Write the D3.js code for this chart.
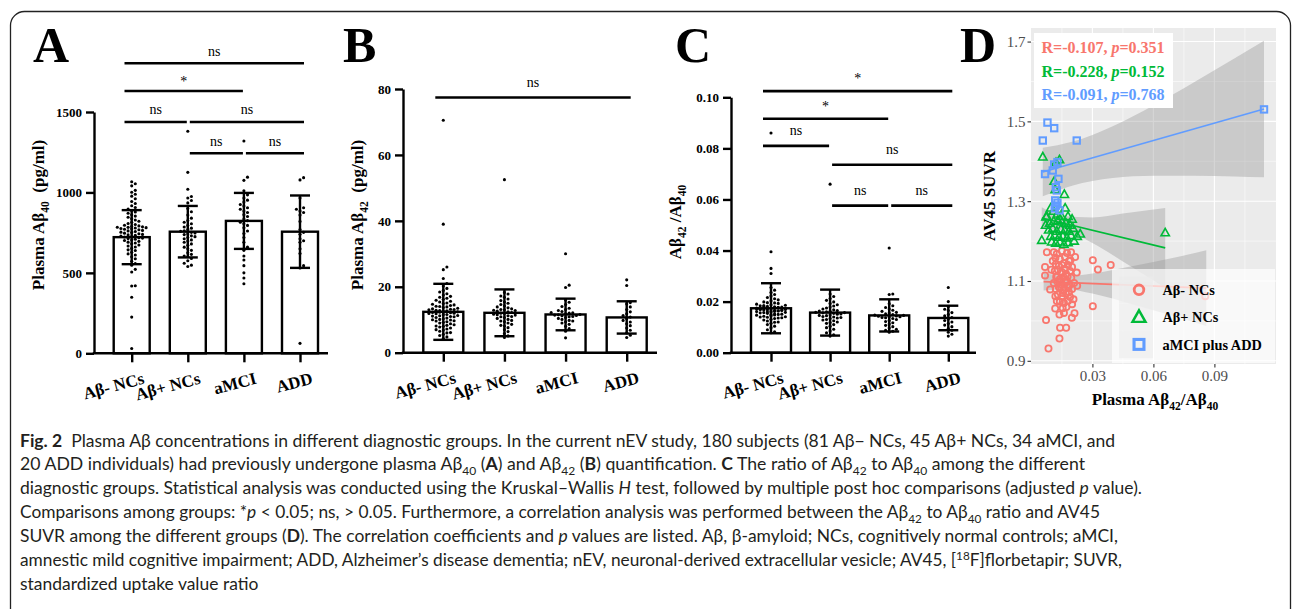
<!DOCTYPE html>
<html>
<head>
<meta charset="utf-8">
<script src="https://cdn.jsdelivr.net/npm/d3@7"></script>
<style>
  body { margin: 0; background: #fff; }
  svg { display: block; }
  text { white-space: pre; }
</style>
</head>
<body>
<script>
// ---- data ----
var groups = ["Aβ- NCs", "Aβ+ NCs", "aMCI", "ADD"];

// A: plasma Aβ40 (pg/ml)
var a40Mean = [722, 756, 823, 756];
var a40SD = [168, 160, 174, 225];
var a40Neg = [30, 225, 348, 418, 420, 505, 522, 548, 558, 572, 588, 600, 611, 618, 628, 639, 643, 652, 661, 667,
  673, 681, 686, 691, 696, 701, 704, 709, 713, 716, 719, 723, 726, 729, 733, 736, 739, 743, 747, 751,
  753, 757, 761, 764, 768, 771, 774, 776, 779, 781, 783, 784, 786, 789, 792, 796, 801, 807, 814, 821,
  829, 837, 846, 853, 861, 871, 879, 887, 896, 906, 917, 931, 944, 961, 977, 989, 1001, 1013, 1041, 1054, 1066];
var a40Pos = [540, 548, 560, 575, 590, 600, 605, 615, 625, 640, 650, 660, 672, 680, 690, 698, 705, 712, 720, 725,
  730, 738, 742, 748, 752, 758, 762, 770, 778, 785, 795, 805, 815, 825, 840, 860, 880, 900, 935, 950,
  965, 975, 1020, 1125, 1380];
var a40Mci = [432, 468, 500, 545, 580, 605, 640, 660, 690, 720, 745, 760, 780, 795, 805, 815, 825, 835, 850, 862,
  875, 885, 895, 905, 915, 925, 940, 952, 965, 985, 1010, 1075, 1095, 1320];
var a40Add = [62, 530, 545, 620, 650, 690, 700, 712, 740, 752, 770, 820, 860, 875, 885, 895, 905, 965, 1078, 1092];
var a40Ticks = [0, 500, 1000, 1500];
var a40Sig = [[0, 3, 1803, "ns"], [0, 2, 1631, "*"], [0, 1, 1438, "ns"], [1, 3, 1438, "ns"], [1, 2, 1244, "ns"], [2, 3, 1244, "ns"]];

// B: plasma Aβ42 (pg/ml)
var a42Mean = [12.4, 12.1, 11.6, 10.7];
var a42SD = [8.5, 7.1, 4.8, 4.9];
var a42Neg = [4.3, 4.8, 5.2, 5.6, 6.1, 6.5, 6.9, 7.2, 7.5, 7.8, 8.0, 8.3, 8.5, 8.8, 9.0, 9.2, 9.4, 9.7, 9.9, 10.1,
  10.3, 10.5, 10.7, 10.9, 11.0, 11.2, 11.3, 11.5, 11.6, 11.8, 11.9, 12.0, 12.1, 12.2, 12.3, 12.4, 12.5, 12.6, 12.7, 12.8,
  12.9, 13.0, 13.2, 13.3, 13.5, 13.7, 13.9, 14.1, 14.3, 14.5, 14.7, 14.9, 15.1, 15.4, 15.6, 15.9, 16.2, 16.5, 16.8, 17.1,
  17.5, 17.9, 18.4, 18.9, 19.5, 20.2, 21.0, 22.5, 25.2, 26.0, 39.0, 70.5, 8.1, 10.0, 11.1, 12.2, 13.1, 9.6, 14.0, 7.0, 6.0];
var a42Pos = [4.6, 5.1, 5.8, 6.4, 7.0, 7.6, 8.1, 8.6, 9.0, 9.4, 9.8, 10.1, 10.4, 10.7, 11.0, 11.2, 11.5, 11.7, 12.0, 12.2,
  12.4, 12.6, 12.8, 13.0, 13.3, 13.6, 13.9, 14.2, 14.6, 15.0, 15.4, 15.8, 16.3, 16.8, 17.2, 17.8, 18.3, 10.9, 11.9, 12.9,
  9.6, 8.3, 13.1, 11.4, 52.5];
var a42Mci = [4.5, 6.5, 7.3, 8.0, 8.6, 9.0, 9.4, 9.8, 10.1, 10.4, 10.7, 11.0, 11.2, 11.4, 11.6, 11.8, 12.0, 12.2, 12.5, 12.8,
  13.1, 13.5, 14.0, 14.6, 15.3, 16.0, 10.9, 11.5, 12.1, 9.6, 19.8, 20.5, 30.0, 11.3];
var a42Add = [4.6, 5.3, 6.0, 6.8, 7.5, 8.2, 8.8, 9.3, 9.8, 10.3, 10.8, 11.3, 11.8, 12.4, 13.1, 13.9, 14.8, 15.2, 20.4, 22.1];
var a42Ticks = [0, 20, 40, 60, 80];
var a42Sig = [[0, 3, 77.4, "ns"]];

// C: Aβ42/Aβ40 ratio
var ratioMean = [0.0174, 0.0157, 0.0146, 0.0136];
var ratioSD = [0.0098, 0.0090, 0.0063, 0.0048];
var ratioNeg = [0.0078, 0.0082, 0.0090, 0.0098, 0.0104, 0.0110, 0.0115, 0.0120, 0.0124, 0.0128, 0.0131, 0.0134, 0.0137, 0.0140,
  0.0143, 0.0145, 0.0148, 0.0150, 0.0152, 0.0154, 0.0156, 0.0158, 0.0160, 0.0161, 0.0162, 0.0163, 0.0164, 0.0165, 0.0166,
  0.0167, 0.0168, 0.0169, 0.0170, 0.0171, 0.0172, 0.0173, 0.0174, 0.0175, 0.0176, 0.0178, 0.0180, 0.0182, 0.0184, 0.0186,
  0.0188, 0.0190, 0.0193, 0.0196, 0.0199, 0.0203, 0.0207, 0.0211, 0.0216, 0.0222, 0.0228, 0.0236, 0.0245, 0.0255, 0.0310,
  0.0330, 0.0395, 0.0860, 0.0119, 0.0139, 0.0149, 0.0159, 0.0169, 0.0179, 0.0185, 0.0141, 0.0151, 0.0163, 0.0171, 0.0177,
  0.0195, 0.0157, 0.0147, 0.0167, 0.0174, 0.0181, 0.0136];
var ratioPos = [0.0065, 0.0070, 0.0078, 0.0085, 0.0092, 0.0098, 0.0104, 0.0110, 0.0115, 0.0120, 0.0125, 0.0130, 0.0134, 0.0138,
  0.0142, 0.0145, 0.0148, 0.0151, 0.0154, 0.0156, 0.0158, 0.0160, 0.0162, 0.0165, 0.0168, 0.0171, 0.0175, 0.0179, 0.0183,
  0.0188, 0.0193, 0.0199, 0.0205, 0.0212, 0.0220, 0.0230, 0.0146, 0.0152, 0.0140, 0.0157, 0.0128, 0.0163, 0.0118, 0.0136, 0.0660];
var ratioMci = [0.0080, 0.0084, 0.0088, 0.0092, 0.0097, 0.0102, 0.0107, 0.0112, 0.0117, 0.0122, 0.0126, 0.0130, 0.0134, 0.0137,
  0.0140, 0.0143, 0.0146, 0.0149, 0.0152, 0.0155, 0.0158, 0.0162, 0.0166, 0.0171, 0.0177, 0.0184, 0.0192, 0.0141, 0.0138,
  0.0144, 0.0228, 0.0230, 0.0410, 0.0147];
var ratioAdd = [0.0065, 0.0072, 0.0080, 0.0088, 0.0095, 0.0102, 0.0108, 0.0114, 0.0120, 0.0126, 0.0132, 0.0138, 0.0144, 0.0150,
  0.0157, 0.0165, 0.0170, 0.0180, 0.0200, 0.0255];
var ratioTicks = [0, 0.02, 0.04, 0.06, 0.08, 0.10];
var ratioSig = [[0, 3, 0.1024, "*"], [0, 2, 0.0916, "*"], [0, 1, 0.081, "ns"], [1, 3, 0.0736, "ns"], [1, 2, 0.0576, "ns"], [2, 3, 0.0576, "ns"]];

// D: ratio vs AV45 SUVR  [ratio, SUVR]
var negPts = [[0.0076, 1.172], [0.0067, 1.135], [0.0067, 1.114], [0.0092, 1.079], [0.0302, 1.152], [0.0327, 1.129], [0.039, 1.140],
  [0.0302, 1.037], [0.0223, 1.121], [0.0072, 1.002], [0.0141, 0.983], [0.0171, 0.983], [0.0138, 0.956], [0.0084, 0.931],
  [0.0117, 1.031], [0.0154, 1.032], [0.0138, 1.016], [0.0199, 1.008], [0.0212, 1.019], [0.0207, 1.054], [0.0855, 1.062],
  [0.0110, 1.172], [0.0125, 1.168], [0.0150, 1.175], [0.0175, 1.170], [0.0195, 1.172],
  [0.0118, 1.158], [0.0140, 1.155], [0.0165, 1.160], [0.0185, 1.150],
  [0.0120, 1.142], [0.0135, 1.138], [0.0160, 1.145], [0.0180, 1.140], [0.0200, 1.135],
  [0.0115, 1.125], [0.0130, 1.128], [0.0150, 1.122], [0.0170, 1.118], [0.0190, 1.125],
  [0.0122, 1.110], [0.0140, 1.105], [0.0158, 1.110], [0.0178, 1.112], [0.0196, 1.108],
  [0.0110, 1.095], [0.0128, 1.098], [0.0148, 1.092], [0.0168, 1.096], [0.0188, 1.090],
  [0.0120, 1.080], [0.0140, 1.082], [0.0160, 1.078], [0.0180, 1.084], [0.0200, 1.080],
  [0.0130, 1.066], [0.0150, 1.062], [0.0170, 1.068], [0.0190, 1.060],
  [0.0140, 1.048], [0.0160, 1.045], [0.0180, 1.050], [0.0200, 1.042],
  [0.0145, 1.100], [0.0165, 1.130], [0.0135, 1.085], [0.0175, 1.100], [0.0155, 1.070], [0.0185, 1.072], [0.0128, 1.112],
  [0.0210, 1.095], [0.0105, 1.150], [0.0215, 1.160], [0.0160, 1.020], [0.0125, 1.050], [0.0098, 1.128], [0.0225, 1.088],
  [0.0150, 1.140], [0.0118, 1.062], [0.0192, 1.152], [0.0172, 1.035]];
var posPts = [[0.0056, 1.411], [0.0138, 1.404], [0.0121, 1.397], [0.0112, 1.350], [0.0117, 1.329], [0.0162, 1.317], [0.0095, 1.283],
  [0.0166, 1.283], [0.0072, 1.261], [0.0051, 1.202], [0.0076, 1.262], [0.0658, 1.221],
  [0.0090, 1.245], [0.0110, 1.250], [0.0130, 1.252], [0.0150, 1.248], [0.0170, 1.245], [0.0190, 1.240],
  [0.0085, 1.228], [0.0105, 1.232], [0.0125, 1.225], [0.0145, 1.230], [0.0165, 1.228], [0.0185, 1.225], [0.0205, 1.232],
  [0.0095, 1.212], [0.0115, 1.215], [0.0135, 1.210], [0.0155, 1.212], [0.0175, 1.208], [0.0195, 1.214], [0.0225, 1.212],
  [0.0100, 1.198], [0.0120, 1.195], [0.0140, 1.198], [0.0160, 1.192], [0.0180, 1.196], [0.0210, 1.200],
  [0.0128, 1.268], [0.0148, 1.262], [0.0108, 1.275], [0.0180, 1.262], [0.0240, 1.218], [0.0070, 1.240], [0.0200, 1.255]];
var mciPts = [[0.0079, 1.497], [0.0112, 1.483], [0.0056, 1.452], [0.0223, 1.452], [0.0112, 1.392], [0.0128, 1.398], [0.0067, 1.368],
  [0.0105, 1.377], [0.0133, 1.356], [0.0125, 1.327], [0.0120, 1.335], [0.0117, 1.302], [0.0121, 1.289], [0.0128, 1.296],
  [0.0138, 1.277], [0.0115, 1.282], [0.1144, 1.530]];

// fitted lines and 95% bands
var negBandX = [0.006, 0.017, 0.03, 0.05, 0.07, 0.086];
var negBandLo = [1.0765, 1.0802, 1.0685, 1.0414, 1.0123, 0.987];
var negBandHi = [1.1205, 1.1122, 1.1185, 1.1374, 1.1583, 1.177];
var posBandX = [0.0051, 0.015, 0.03, 0.045, 0.0658];
var posBandLo = [1.2309, 1.2276, 1.1953, 1.1489, 1.0831];
var posBandHi = [1.2849, 1.2636, 1.2593, 1.2689, 1.2831];
var mciBandX = [0.0056, 0.02, 0.04, 0.06, 0.08, 0.1, 0.1144];
var mciBandLo = [1.3121, 1.339, 1.358, 1.364, 1.364, 1.362, 1.3599];
var mciBandHi = [1.4341, 1.449, 1.488, 1.54, 1.598, 1.658, 1.7019];

var corrR = ["-0.107", "-0.228", "-0.091"];
var corrP = ["0.351", "0.152", "0.768"];
var dSeries = ["Aβ- NCs", "Aβ+ NCs", "aMCI plus ADD"];
var dXMajor = [0.03, 0.06, 0.09], dXMinor = [0.015, 0.045, 0.075, 0.105];
var dYMajor = [0.9, 1.1, 1.3, 1.5, 1.7], dYMinor = [1.0, 1.2, 1.4, 1.6];

// ---- drawing ----
var serif = '"Liberation Serif", "Times New Roman", serif';
var svg = d3.select("body").append("svg").attr("width", 1293).attr("height", 609);

svg.append("rect").attr("x", 10.5).attr("y", 11.5).attr("width", 1280).attr("height", 720).attr("rx", 14)
  .attr("fill", "none").attr("stroke", "#222").attr("stroke-width", 1.3);

// text with sub/sup/bold/italic pieces
function rich(t, segs, size) {
  var shift = 0;
  segs.forEach(function (s) {
    var str = typeof s === "string" ? s : s[0];
    var st = typeof s === "string" ? "" : s[1];
    var want = st === "sub" ? size * 0.3 : st === "sup" ? -size * 0.38 : 0;
    var sp = t.append("tspan").text(str).attr("dy", want - shift);
    shift = want;
    if (st === "sub" || st === "sup") sp.attr("font-size", size * 0.68);
    if (st === "b") sp.attr("font-weight", "bold");
    if (st === "i") sp.attr("font-style", "italic");
  });
  return t;
}

// GraphPad style dot layout: rows spread sideways inside the bar, overlap when the row is full
function swarm(vals, y, cx, r, half) {
  var placed = [], step = 2 * r + 0.5, maxK = 2 * Math.floor(half / step);
  return vals.slice().sort(d3.ascending).map(function (v) {
    var py = y(v), best = 0, bestHits = Infinity;
    for (var k = 0; k <= maxK; k++) {
      var off = k === 0 ? 0 : Math.ceil(k / 2) * (k % 2 ? 1 : -1) * step;
      var hits = placed.filter(function (p) {
        return Math.abs(p[0] - off) < 2 * r + 0.3 && Math.abs(p[1] - py) < 2 * r + 0.3;
      }).length;
      if (hits < bestHits) { bestHits = hits; best = off; }
      if (hits === 0) break;
    }
    placed.push([best, py]);
    return [cx + best, py];
  });
}

function letter(s, x) {
  svg.append("text").attr("x", x).attr("y", 61.7).text(s)
    .attr("font-family", serif).attr("font-weight", "bold").attr("font-size", 50);
}

function barPanel(o) {
  var g = svg.append("g");
  var y = d3.scaleLinear().domain([0, o.top]).range([o.base, o.topPx]);
  var x = d3.scalePoint().domain(groups).range(o.cats);
  var lw = 2.4;

  g.selectAll("rect.bar").data(o.mean).join("rect").attr("class", "bar")
    .attr("x", function (d, i) { return x(groups[i]) - o.bw / 2; })
    .attr("y", function (d) { return y(d); })
    .attr("width", o.bw)
    .attr("height", function (d) { return y(0) - y(d); })
    .attr("fill", "#fff").attr("stroke", "#000").attr("stroke-width", lw);

  o.dots.forEach(function (vals, i) {
    g.append("g").selectAll("circle").data(swarm(vals, y, x(groups[i]), 1.55, o.bw / 2 - 3)).join("circle")
      .attr("cx", function (d) { return d[0]; })
      .attr("cy", function (d) { return d[1]; })
      .attr("r", 1.55).attr("fill", "#000");
  });

  o.mean.forEach(function (m, i) {
    var cx = x(groups[i]), lo = y(m - o.sd[i]), hi = y(m + o.sd[i]);
    g.append("line").attr("x1", cx).attr("x2", cx).attr("y1", lo).attr("y2", hi)
      .attr("stroke", "#000").attr("stroke-width", lw);
    [lo, hi].forEach(function (yy) {
      g.append("line").attr("x1", cx - 10).attr("x2", cx + 10).attr("y1", yy).attr("y2", yy)
        .attr("stroke", "#000").attr("stroke-width", lw);
    });
  });

  var ya = g.append("g").attr("transform", "translate(" + o.axisX + ",0)")
    .call(d3.axisLeft(y).tickValues(o.ticks).tickFormat(o.fmt).tickSize(8).tickSizeOuter(0).tickPadding(4));
  ya.select(".domain").attr("stroke-width", lw);
  ya.selectAll(".tick line").attr("stroke-width", lw);
  ya.selectAll("text").attr("font-family", serif).attr("font-weight", "bold").attr("font-size", 13).attr("fill", "#000");

  var xa = g.append("g").attr("transform", "translate(0," + y(0) + ")")
    .call(d3.axisBottom(x).tickSize(9).tickSizeOuter(0));
  xa.select(".domain").remove();
  xa.selectAll(".tick line").attr("stroke-width", lw);
  xa.selectAll("text").attr("font-family", serif).attr("font-weight", "bold").attr("font-size", 17).attr("fill", "#000")
    .attr("text-anchor", "end").attr("x", 13).attr("y", 30).attr("dy", 0)
    .attr("transform", "rotate(-15 13 30)");
  g.append("line").attr("x1", o.axisX - lw / 2).attr("x2", o.xEnd).attr("y1", y(0)).attr("y2", y(0))
    .attr("stroke", "#000").attr("stroke-width", lw);

  // significance brackets
  o.sig.forEach(function (s) {
    var x1 = s[0] === 0 ? x(groups[0]) - o.bw / 5 : x(groups[s[0]]) + 2;
    var x2 = s[1] === 3 ? x(groups[3]) + 4 : x(groups[s[1]]) - 1;
    var ly = y(s[2]);
    g.append("line").attr("x1", x1).attr("x2", x2).attr("y1", ly).attr("y2", ly)
      .attr("stroke", "#000").attr("stroke-width", 2.6);
    g.append("text").attr("x", (x1 + x2) / 2).attr("y", ly - (s[3] === "*" ? o.gap - 2.6 : o.gap))
      .attr("text-anchor", "middle").attr("font-family", serif).attr("font-size", 14).text(s[3]);
  });

  rich(g.append("text").attr("text-anchor", "middle")
    .attr("transform", "translate(" + o.titleX + "," + o.titleY + ") rotate(-90)")
    .attr("font-family", serif).attr("font-weight", "bold").attr("font-size", 17), o.title, 17);
}

letter("A", 33);
barPanel({
  mean: a40Mean, sd: a40SD, dots: [a40Neg, a40Pos, a40Mci, a40Add], ticks: a40Ticks, sig: a40Sig,
  fmt: d3.format("d"), top: 1500, base: 353.3, topPx: 112, cats: [131.7, 300], bw: 36,
  axisX: 94, xEnd: 328, gap: 7.5, titleX: 43.5, titleY: 215,
  title: ["Plasma Aβ", ["40", "sub"], "  (pg/ml)"]
});

letter("B", 343);
barPanel({
  mean: a42Mean, sd: a42SD, dots: [a42Neg, a42Pos, a42Mci, a42Add], ticks: a42Ticks, sig: a42Sig,
  fmt: d3.format("d"), top: 80, base: 352.7, topPx: 89, cats: [443.3, 626.7], bw: 40,
  axisX: 403, xEnd: 657, gap: 10.5, titleX: 363, titleY: 215,
  title: ["Plasma Aβ", ["42", "sub"], "  (pg/ml)"]
});

letter("C", 675);
barPanel({
  mean: ratioMean, sd: ratioSD, dots: [ratioNeg, ratioPos, ratioMci, ratioAdd], ticks: ratioTicks, sig: ratioSig,
  fmt: d3.format(".2f"), top: 0.10, base: 352.7, topPx: 97.3, cats: [771, 948.3], bw: 40,
  axisX: 731, xEnd: 976, gap: 10.5, titleX: 681, titleY: 222,
  title: ["Aβ", ["42", "sub"], " /Aβ", ["40", "sub"]]
});

// ---- panel D ----
letter("D", 960);
var dcol = ["#F8766D", "#00BA38", "#619CFF"];
var dx = d3.scaleLinear().domain([-0.0002, 0.1203]).range([1031, 1276]);
var dy = d3.scaleLinear().domain([0.892, 1.734]).range([364, 28]);
var gd = svg.append("g");

gd.append("rect").attr("x", 1031).attr("y", 28).attr("width", 245).attr("height", 336).attr("fill", "#EBEBEB");
[[dXMinor, 0.55], [dXMajor, 1.1]].forEach(function (p) {
  gd.selectAll(null).data(p[0]).join("line")
    .attr("x1", dx).attr("x2", dx).attr("y1", 28).attr("y2", 364)
    .attr("stroke", "#fff").attr("stroke-width", p[1]);
});
[[dYMinor, 0.55], [dYMajor, 1.1]].forEach(function (p) {
  gd.selectAll(null).data(p[0]).join("line")
    .attr("y1", dy).attr("y2", dy).attr("x1", 1031).attr("x2", 1276)
    .attr("stroke", "#fff").attr("stroke-width", p[1]);
});

var bands = [[negBandX, negBandLo, negBandHi], [posBandX, posBandLo, posBandHi], [mciBandX, mciBandLo, mciBandHi]];
var area = d3.area().curve(d3.curveMonotoneX)
  .x(function (d) { return dx(d[0]); }).y0(function (d) { return dy(d[1]); }).y1(function (d) { return dy(d[2]); });
bands.forEach(function (b) {
  var rows = b[0].map(function (v, i) { return [v, b[1][i], b[2][i]]; });
  gd.append("path").attr("d", area(rows)).attr("fill", "#999").attr("fill-opacity", 0.4);
});
bands.forEach(function (b, k) {
  var n = b[0].length - 1;
  gd.append("line")
    .attr("x1", dx(b[0][0])).attr("y1", dy((b[1][0] + b[2][0]) / 2))
    .attr("x2", dx(b[0][n])).attr("y2", dy((b[1][n] + b[2][n]) / 2))
    .attr("stroke", dcol[k]).attr("stroke-width", 1.7);
});

function marker(sel, k, s) {
  if (k === 0) {
    sel.append("circle").attr("r", 3.1 * s).attr("fill", "none").attr("stroke", dcol[0]).attr("stroke-width", 1.8 * s);
  } else if (k === 1) {
    var h = 4.4 * s;
    sel.append("path").attr("d", "M0," + (-h) + "L" + (h * 0.95) + "," + (h * 0.7) + "L" + (-h * 0.95) + "," + (h * 0.7) + "Z")
      .attr("fill", "none").attr("stroke", dcol[1]).attr("stroke-width", 1.6 * s);
  } else {
    var a = 3.2 * s;
    sel.append("rect").attr("x", -a).attr("y", -a).attr("width", 2 * a).attr("height", 2 * a)
      .attr("fill", "none").attr("stroke", dcol[2]).attr("stroke-width", 2 * s);
  }
}
[negPts, posPts, mciPts].forEach(function (pts, k) {
  gd.append("g").selectAll("g").data(pts).join("g")
    .attr("transform", function (d) { return "translate(" + dx(d[0]) + "," + dy(d[1]) + ")"; })
    .each(function () { marker(d3.select(this), k, 1); });
});

var ax = gd.append("g").attr("transform", "translate(1031,0)")
  .call(d3.axisLeft(dy).tickValues(dYMajor).tickFormat(d3.format(".1f")).tickSize(3.5).tickPadding(2));
var bx = gd.append("g").attr("transform", "translate(0,364)")
  .call(d3.axisBottom(dx).tickValues(dXMajor).tickFormat(d3.format(".2f")).tickSize(3.5).tickPadding(3));
[ax, bx].forEach(function (a) {
  a.select(".domain").remove();
  a.selectAll(".tick line").attr("stroke", "#333").attr("stroke-width", 1.1);
  a.selectAll("text").attr("font-family", serif).attr("font-size", 15).attr("fill", "#4D4D4D");
});

rich(gd.append("text").attr("text-anchor", "middle").attr("x", 1155).attr("y", 405)
  .attr("font-family", serif).attr("font-weight", "bold").attr("font-size", 17),
  ["Plasma Aβ", ["42", "sub"], "/Aβ", ["40", "sub"]], 17);
gd.append("text").attr("text-anchor", "middle").attr("transform", "translate(995,196) rotate(-90)")
  .attr("font-family", serif).attr("font-weight", "bold").attr("font-size", 17).text("AV45 SUVR");

// correlation labels
gd.append("rect").attr("x", 1034).attr("y", 33).attr("width", 139).attr("height", 75).attr("fill", "#fff");
corrR.forEach(function (r, k) {
  rich(gd.append("text").attr("x", 1041.5).attr("y", 53.3 + k * 23.4)
    .attr("font-family", serif).attr("font-weight", "bold").attr("font-size", 16).attr("fill", dcol[k]),
    ["R=" + r + ", ", ["p", "i"], "=" + corrP[k]], 16);
});

// legend
gd.append("rect").attr("x", 1112).attr("y", 269).attr("width", 163).attr("height", 94)
  .attr("fill", "#fff").attr("fill-opacity", 0.68);
dSeries.forEach(function (name, k) {
  var ky = 276.5 + k * 27.3;
  gd.append("rect").attr("x", 1119).attr("y", ky).attr("width", 34).attr("height", 27)
    .attr("fill", "#EBEBEB").attr("fill-opacity", 0.6);
  marker(gd.append("g").attr("transform", "translate(1139," + (ky + 13.3) + ")"), k, 1.55);
  gd.append("text").attr("x", 1162.5).attr("y", ky + 18.5).text(name)
    .attr("font-family", serif).attr("font-weight", "bold").attr("font-size", 14.3);
});

// ---- caption ----
var capLines = [
  [["Fig. 2", "b"], "  Plasma Aβ concentrations in different diagnostic groups. In the current nEV study, 180 subjects (81 Aβ− NCs, 45 Aβ+ NCs, 34 aMCI, and"],
  ["20 ADD individuals) had previously undergone plasma Aβ", ["40", "sub"], " (", ["A", "b"], ") and Aβ", ["42", "sub"], " (", ["B", "b"],
    ") quantification. ", ["C", "b"], " The ratio of Aβ", ["42", "sub"], " to Aβ", ["40", "sub"], " among the different"],
  ["diagnostic groups. Statistical analysis was conducted using the Kruskal–Wallis ", ["H", "i"],
    " test, followed by multiple post hoc comparisons (adjusted ", ["p", "i"], " value)."],
  ["Comparisons among groups: *", ["p", "i"], " < 0.05; ns, > 0.05. Furthermore, a correlation analysis was performed between the Aβ",
    ["42", "sub"], " to Aβ", ["40", "sub"], " ratio and AV45"],
  ["SUVR among the different groups (", ["D", "b"], "). The correlation coefficients and ", ["p", "i"],
    " values are listed. Aβ, β-amyloid; NCs, cognitively normal controls; aMCI,"],
  ["amnestic mild cognitive impairment; ADD, Alzheimer’s disease dementia; nEV, neuronal-derived extracellular vesicle; AV45, [",
    ["18", "sup"], "F]florbetapir; SUVR,"],
  ["standardized uptake value ratio"]
];
var capWidths = [1095, 1065, 1122, 1080, 1098, 1102];
var ratios = [];
capLines.forEach(function (segs, i) {
  var t = rich(svg.append("text").attr("x", 20).attr("y", 446.5 + i * 23.9)
    .attr("font-family", "Lato, 'Open Sans', sans-serif").attr("font-size", 16.5).attr("fill", "#231F20"), segs, 16.5);
  var nat = t.node().getComputedTextLength();
  if (i < capWidths.length) {
    ratios.push(capWidths[i] / nat);
    t.attr("textLength", capWidths[i]).attr("lengthAdjust", "spacingAndGlyphs");
  } else {
    t.attr("textLength", nat * d3.mean(ratios)).attr("lengthAdjust", "spacingAndGlyphs");
  }
});
</script>
</body>
</html>
